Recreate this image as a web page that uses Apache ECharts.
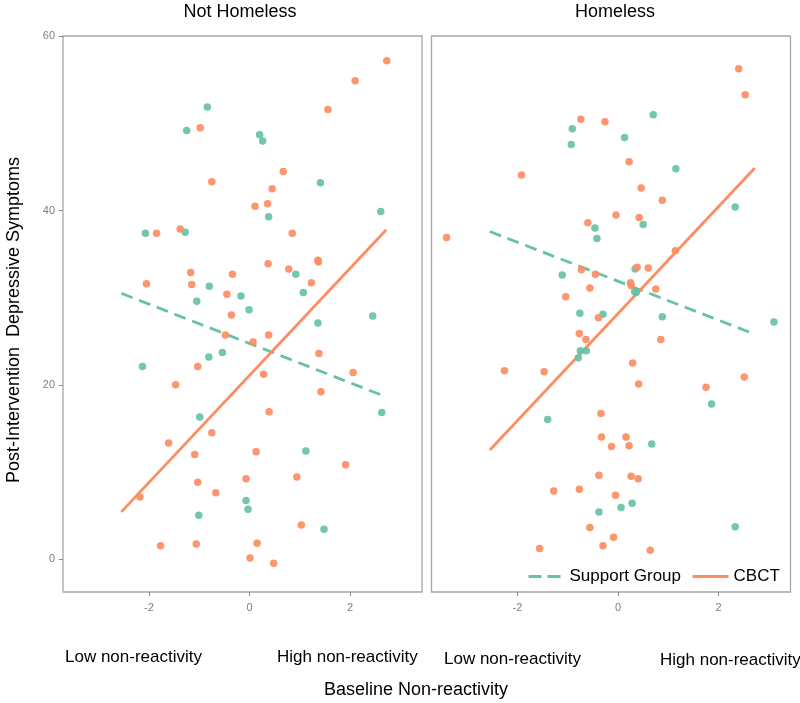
<!DOCTYPE html>
<html>
<head>
<meta charset="utf-8">
<script src="https://cdn.jsdelivr.net/npm/echarts@6/dist/echarts.min.js"></script>
<style>
  html, body { margin: 0; padding: 0; background: #fff; }
  #chart { width: 800px; height: 703px; }
</style>
</head>
<body>
<div id="chart"></div>
<script>
// facet panels
const panels = ["Not Homeless", "Homeless"];
const groups = ["Support Group", "CBCT"];
const xTicks = [-2, 0, 2];
const yTicks = [0, 20, 40, 60];

// Not Homeless - Support Group
const nhSupportX = [-0.84, -1.25, 0.20, 0.26, 1.41, 2.61, 0.38, -2.07, -1.28, 0.92, 1.07, -0.80, -1.05, -0.17, -0.01, 2.45, 1.36, -0.81, -0.54, -2.13, 2.63, -0.99, 1.12, -0.07, -0.03, -1.01, 1.48];
const nhSupportY = [51.9, 49.2, 48.7, 48.0, 43.2, 39.9, 39.3, 37.4, 37.5, 32.7, 30.6, 31.3, 29.6, 30.2, 28.6, 27.9, 27.1, 23.2, 23.7, 22.1, 16.8, 16.3, 12.4, 6.7, 5.7, 5.0, 3.4];
// Not Homeless - CBCT
const nhCbctX = [2.73, 2.10, 1.56, -0.98, -0.75, 0.67, 0.45, 0.36, 0.11, -1.85, -1.38, 0.85, 0.37, 0.78, 1.36, 1.37, 1.23, -2.05, -1.17, -1.15, -0.34, -0.45, -0.36, -0.48, 0.07, 0.38, 1.38, 2.06, 0.28, -1.03, -1.47, 1.42, 0.39, -0.75, -1.61, -1.09, 0.13, 1.91, -1.03, -0.07, 0.94, -0.67, -2.18, 1.03, -1.77, -1.06, 0.15, 0.01, 0.48];
const nhCbctY = [57.2, 54.9, 51.6, 49.5, 43.3, 44.5, 42.5, 40.8, 40.5, 37.4, 37.9, 37.4, 33.9, 33.3, 34.3, 34.1, 31.7, 31.6, 32.9, 31.5, 32.7, 30.4, 28.0, 25.7, 24.9, 25.7, 23.6, 21.4, 21.2, 22.1, 20.0, 19.2, 16.9, 14.5, 13.3, 12.0, 12.3, 10.8, 8.8, 9.2, 9.4, 7.6, 7.1, 3.9, 1.5, 1.7, 1.8, 0.1, -0.5];

// Homeless - Support Group
const hSupportX = [0.70, -0.91, -0.93, 0.13, 1.15, 2.33, -0.46, -0.42, 0.50, -1.11, 0.34, 0.33, 0.36, -0.76, -0.30, 0.88, 3.10, -0.75, -0.63, -0.79, -1.40, 1.86, 0.67, -0.38, 0.06, 0.28, 2.33];
const hSupportY = [51.0, 49.4, 47.6, 48.4, 44.8, 40.4, 38.0, 36.8, 38.4, 32.6, 33.3, 30.7, 30.6, 28.2, 28.1, 27.8, 27.2, 23.9, 23.9, 23.1, 16.0, 17.8, 13.2, 5.4, 5.9, 6.4, 3.7];
// Homeless - CBCT
const hCbctX = [2.40, 2.53, -0.74, -0.26, -1.92, 0.22, 0.46, 0.88, -0.04, 0.42, -0.60, -3.41, 1.14, 0.38, 0.60, -0.73, -0.45, 0.25, 0.26, -0.56, 0.75, -1.04, -0.39, -0.77, -0.64, 0.85, -2.26, -1.47, 0.29, 0.41, 1.75, 2.51, -0.34, -0.33, 0.16, -0.13, 0.22, -0.38, 0.26, 0.40, -1.28, -0.77, -0.05, -0.56, -0.09, -1.56, -0.30, 0.64];
const hCbctY = [56.3, 53.3, 50.5, 50.2, 44.1, 45.6, 42.6, 41.2, 39.5, 39.2, 38.6, 36.9, 35.4, 33.5, 33.4, 33.2, 32.7, 31.7, 31.4, 31.1, 31.0, 30.1, 27.7, 25.9, 25.2, 25.2, 21.6, 21.5, 22.5, 20.1, 19.7, 20.9, 16.7, 14.0, 14.0, 12.9, 13.0, 9.6, 9.5, 9.2, 7.8, 8.0, 7.3, 3.6, 2.5, 1.2, 1.5, 1.0];

// fitted lines (end points)
const fitX = [-2.55, 2.72];
const nhSupportFit = [30.5, 18.6];
const nhCbctFit = [5.4, 37.8];
const hSupportFit = [37.6, 25.8];
const hCbctFit = [12.5, 44.9];

const green = "#66C2A5";
const orange = "#FC8D62";

const zip = (xs, ys) => xs.map((x, i) => [x, ys[i]]);

const getChart = () => {
  const myChart = echarts.init(document.getElementById("chart"));

  const gridBase = { top: 36, height: 556, width: 359, show: true, borderColor: "#a6a6a6", borderWidth: 1.3, backgroundColor: "#fff" };

  const mkX = (gi) => ({
    type: "value", gridIndex: gi, min: -3.71, max: 3.43,
    axisLine: { show: false, onZero: false },
    axisTick: { show: true, length: 4, customValues: xTicks, lineStyle: { color: "#8c8c8c" } },
    axisLabel: { customValues: xTicks, margin: 10, fontSize: 11, color: "#7f7f7f", fontFamily: "Liberation Sans" },
    splitLine: { show: false }
  });
  const mkY = (gi, labels) => ({
    type: "value", gridIndex: gi, min: -3.8, max: 60.05,
    axisLine: { show: false, onZero: false },
    axisTick: { show: labels, length: 4, customValues: yTicks, lineStyle: { color: "#8c8c8c" } },
    axisLabel: { show: labels, customValues: yTicks, margin: 8, fontSize: 11, color: "#7f7f7f", fontFamily: "Liberation Sans" },
    splitLine: { show: false }
  });

  const pts = (name, gi, xs, ys, color) => ({
    name: name + " pts", type: "scatter", xAxisIndex: gi, yAxisIndex: gi,
    symbolSize: 7.5, itemStyle: { color: color, opacity: 0.92 }, z: 4,
    data: zip(xs, ys)
  });
  const fit = (name, gi, ys, color, dashed) => ({
    name: name, type: "line", xAxisIndex: gi, yAxisIndex: gi,
    symbol: "none", z: 3, silent: true,
    lineStyle: { color: color, width: 2.8, type: dashed ? [12, 7] : "solid" },
    itemStyle: { color: color },
    data: zip(fitX, ys)
  });

  const font = "Liberation Sans";
  const txt = (text, x, y, size, align, extra) => Object.assign({
    type: "text", x: x, y: y,
    style: { text: text, fontSize: size, fontFamily: font, fill: "#000", textAlign: align, textVerticalAlign: "middle" }
  }, extra || {});

  const option = {
    backgroundColor: "#fff",
    animation: false,
    grid: [
      Object.assign({ left: 63 }, gridBase),
      Object.assign({ left: 431.5 }, gridBase)
    ],
    xAxis: [mkX(0), mkX(1)],
    yAxis: [mkY(0, true), mkY(1, false)],
    legend: {
      data: [
        { name: groups[0], lineStyle: { type: [13, 6], width: 3 } },
        { name: groups[1], lineStyle: { width: 3 } }
      ],
      left: 522, top: 563,
      itemWidth: 36, itemHeight: 14, itemGap: 10,
      itemStyle: { opacity: 0 },
      textStyle: { fontSize: 17, color: "#000", fontFamily: font },
      backgroundColor: "rgba(255,255,255,0.9)"
    },
    graphic: [
      txt(panels[0], 240, 12, 18, "center"),
      txt(panels[1], 615, 12, 18, "center"),
      txt("Low non-reactivity", 65, 657, 17, "left"),
      txt("High non-reactivity", 277, 657, 17, "left"),
      txt("Low non-reactivity", 444, 659, 17, "left"),
      txt("High non-reactivity", 660, 660, 17, "left"),
      txt("Baseline Non-reactivity", 416, 690, 18, "center"),
      txt("Post-Intervention  Depressive Symptoms", 14, 320, 18, "center", { rotation: Math.PI / 2 })
    ],
    series: [
      fit(groups[0], 0, nhSupportFit, green, true),
      fit(groups[1], 0, nhCbctFit, orange, false),
      fit(groups[0], 1, hSupportFit, green, true),
      fit(groups[1], 1, hCbctFit, orange, false),
      pts(groups[0], 0, nhSupportX, nhSupportY, green),
      pts(groups[1], 0, nhCbctX, nhCbctY, orange),
      pts(groups[0], 1, hSupportX, hSupportY, green),
      pts(groups[1], 1, hCbctX, hCbctY, orange)
    ]
  };

  option && myChart.setOption(option);
  window.addEventListener("resize", () => myChart.resize());
};

getChart();
</script>
</body>
</html>
